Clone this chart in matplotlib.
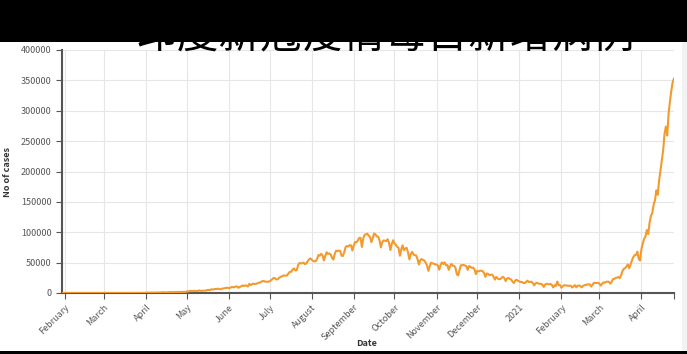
import matplotlib
matplotlib.use("Agg")
import matplotlib.pyplot as plt
import matplotlib.dates as mdates
from matplotlib.patches import Rectangle
import pandas as pd

plt.rcParams['font.family'] = ['Noto Sans CJK SC', 'DejaVu Sans']

# daily new cases, India, Jan 30 2020 - Apr 25 2021
jan20 = [1, 0]
feb20 = [0, 1, 1, 0, 0, 0, 0, 0, 0, 0, 0, 0, 0, 0, 0, 0, 0, 0, 0, 0, 0, 0, 0, 0, 0, 0, 0, 0, 0]
mar20 = [0, 2, 1, 22, 2, 1, 3, 5, 9, 15, 8, 10, 14, 19, 26, 2, 28, 14, 38, 50, 86, 66, 103, 37,
         121, 70, 160, 100, 64, 227, 146]
apr20 = [424, 486, 560, 579, 609, 484, 573, 565, 813, 871, 854, 758, 1243, 1031, 886, 1061, 922,
         1371, 1580, 1239, 1537, 1292, 1667, 1408, 1835, 1607, 1568, 1902, 1705, 1801]
may20 = [2396, 2564, 2952, 3656, 2971, 3602, 3344, 3339, 3175, 4311, 3592, 3562, 3726, 3991, 3808,
         4794, 5050, 4630, 6147, 5553, 6198, 6568, 6629, 7111, 6414, 5843, 7293, 7300, 8105, 8392, 8789]
jun20 = [7723, 8812, 9689, 9847, 9472, 10408, 10882, 8536, 9983, 10956, 12375, 11458, 12566, 11929,
         10667, 14933, 13103, 14516, 15413, 14821, 14933, 15968, 16922, 17296, 18552, 19906, 19459,
         18522, 18653, 18641]
jul20 = [19148, 20903, 22771, 24850, 24248, 22252, 22752, 24879, 26506, 27114, 28637, 28701, 28498,
         29429, 32695, 34956, 34884, 38902, 40425, 37148, 37724, 45720, 49310, 48916, 48661, 49931,
         47703, 48513, 52123, 55079, 57117]
aug20 = [54735, 52972, 52050, 52509, 56282, 62538, 61537, 64399, 62064, 53601, 60963, 66999, 64553,
         65002, 63489, 57981, 55079, 64531, 69652, 68898, 69878, 69239, 61408, 60975, 67151, 75760,
         77266, 76472, 78761, 78512, 69921]
sep20 = [78357, 83883, 83341, 86432, 90632, 90802, 75809, 89706, 95735, 96551, 97570, 94372, 92071,
         83809, 90123, 97894, 96424, 93337, 92605, 86961, 75083, 83347, 86508, 86052, 85362, 88600,
         82170, 70589, 80472, 86821]
oct20 = [81484, 79476, 75829, 74442, 61267, 72049, 78524, 70496, 73272, 74383, 66732, 55342, 63509,
         67708, 63371, 62212, 61871, 55722, 46790, 54044, 55839, 54366, 53370, 50129, 45149, 36469,
         43893, 49881, 48648, 48268, 46963]
nov20 = [46964, 45231, 38310, 46253, 50210, 47638, 50356, 45674, 45903, 38073, 44281, 47905, 44879,
         44684, 41100, 30548, 29164, 38617, 45576, 45882, 46232, 45209, 44059, 37975, 44376, 43082,
         41322, 41810, 38772, 31118]
dec20 = [36604, 35551, 36595, 36652, 36011, 32981, 26567, 32080, 31521, 29398, 30006, 30254, 27071,
         22065, 26382, 24010, 22890, 22889, 25152, 26624, 24337, 19556, 23950, 24712, 23067, 22272,
         18732, 16432, 20550, 21822, 20035]
jan21 = [19078, 18177, 18088, 16505, 16375, 18088, 20346, 18139, 18222, 18645, 16311, 12584, 15968,
         16946, 15590, 15158, 15144, 13788, 10064, 13823, 15223, 14545, 14256, 14849, 13203, 9102,
         12689, 11666, 18855, 13083, 13052]
feb21 = [8635, 11039, 12899, 12408, 12408, 11713, 12059, 11831, 9110, 11067, 12923, 9309, 12143,
         12194, 11649, 9121, 11610, 12881, 13193, 13993, 14264, 14199, 10584, 13742, 16738, 16577,
         16488, 16752]
mar21 = [15510, 12286, 14989, 17407, 16838, 18327, 18711, 18599, 15388, 17921, 22854, 23285, 24882,
         25320, 26291, 24492, 28903, 35871, 39726, 40953, 43846, 46951, 40715, 47262, 53476, 59118,
         62258, 62714, 68020, 56211, 53480]
apr21 = [72330, 81466, 89129, 93249, 103558, 96982, 115736, 126789, 131968, 145384, 152879, 168912,
         161736, 184372, 200739, 217353, 234692, 261500, 273810, 259170, 295041, 314835, 332730,
         346786, 352991]

cases = (jan20 + feb20 + mar20 + apr20 + may20 + jun20 + jul20 + aug20 + sep20 + oct20 + nov20
         + dec20 + jan21 + feb21 + mar21 + apr21)
dates = pd.date_range("2020-01-30", periods=len(cases), freq="D")

month_ticks = pd.date_range("2020-02-01", "2021-04-01", freq="MS")
month_labels = ["February", "March", "April", "May", "June", "July", "August", "September",
                "October", "November", "December", "2021", "February", "March", "April"]
y_ticks = [0, 50000, 100000, 150000, 200000, 250000, 300000, 350000, 400000]

title = "印度新冠疫情每日新增病例"

W, H = 687, 354
fig = plt.figure(figsize=(W / 100, H / 100), dpi=100)
ax = fig.add_axes([62 / W, 1 - 293 / H, (674 - 62) / W, (293 - 50) / H])

ax.plot(dates, cases, color="#f39a2e", lw=1.5, zorder=3)

ax.set_xlim(dates[0], dates[-1])
ax.set_ylim(0, 400000)
ax.set_yticks(y_ticks)
ax.set_yticklabels([str(v) for v in y_ticks])
ax.set_xticks(month_ticks)
ax.set_xticklabels(month_labels, rotation=45, ha="right", rotation_mode="anchor")
ax.set_xticks([dates[-1]], minor=True)

ax.tick_params(axis="both", labelsize=6.5, labelcolor="#555555", colors="#555555",
               length=4, width=0.8)
ax.tick_params(axis="x", which="minor", length=4, width=0.8, colors="#555555")
ax.tick_params(axis="x", pad=3)

ax.grid(True, color="#e6e6e6", lw=0.8)
ax.set_axisbelow(True)
for s in ["top", "right"]:
    ax.spines[s].set_visible(False)
for s in ["left", "bottom"]:
    ax.spines[s].set_color("#555555")
    ax.spines[s].set_linewidth(1.5)

fig.text(8 / W, 1 - 172 / H, "No of cases", rotation=90, ha="center", va="center",
         fontsize=6.5, color="#333333", fontweight="bold")
fig.text(367 / W, 1 - 343 / H, "Date", ha="center", va="center",
         fontsize=6.5, color="#333333", fontweight="bold")

# title partly hidden behind the black band
fig.text(385 / W, 1 - 47 / H, title, ha="center", va="baseline", fontsize=30,
         color="black", zorder=1)
fig.patches.append(Rectangle((0, 1 - 42 / H), 1, 42 / H, transform=fig.transFigure,
                             facecolor="black", edgecolor="none", zorder=10))
fig.patches.append(Rectangle((0, 0), 1, 3 / H, transform=fig.transFigure,
                             facecolor="black", edgecolor="none", zorder=10))
fig.patches.append(Rectangle((682 / W, 3 / H), 5 / W, 1 - 45 / H, transform=fig.transFigure,
                             facecolor="#f2f2f2", edgecolor="none", zorder=10))

fig.savefig("out.png", dpi=100)
